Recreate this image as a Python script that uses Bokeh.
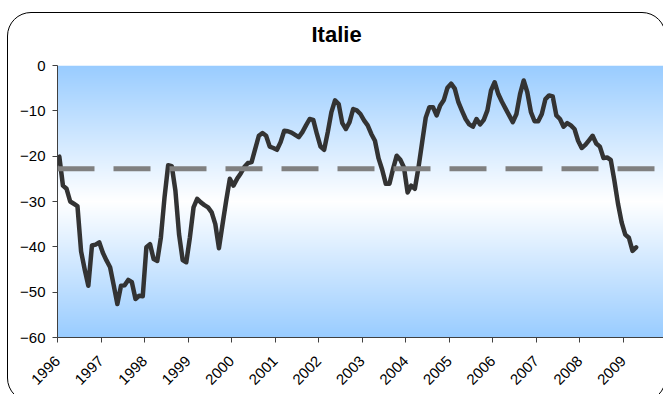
import numpy as np
from bokeh.plotting import figure
from bokeh.models import Span, FixedTicker, InlineStyleSheet
from bokeh.embed import file_html
from bokeh.resources import INLINE

# ---- data ----
title_text = "Italie"
start_year = 1996
values = [
    # 1996
    -20.1, -26.5, -27.2, -30.0, -30.5, -31.0, -41.0, -45.0, -48.6, -39.7, -39.5, -39.0,
    # 1997
    -41.3, -43.0, -44.5, -48.5, -52.6, -48.6, -48.5, -47.3, -47.8, -51.5, -50.8, -50.9,
    # 1998
    -40.1, -39.4, -42.7, -43.1, -37.9, -29.1, -22.0, -22.2, -27.6, -37.2, -42.9, -43.4,
    # 1999
    -37.9, -31.3, -29.4, -30.2, -30.8, -31.3, -32.4, -35.0, -40.3, -35.0, -29.8, -25.0,
    # 2000
    -26.5, -25.0, -23.8, -22.4, -21.5, -21.3, -18.4, -15.5, -14.9, -15.5, -17.9, -18.2,
    # 2001
    -18.6, -16.9, -14.4, -14.5, -14.8, -15.3, -15.8, -14.7, -13.2, -11.8, -12.0, -15.1,
    # 2002
    -17.9, -18.6, -14.7, -10.3, -7.7, -8.5, -12.7, -14.0, -12.5, -9.6, -9.9, -10.7,
    # 2003
    -12.1, -13.2, -15.1, -16.6, -20.5, -23.0, -26.1, -26.1, -22.8, -19.9, -20.8, -22.5,
    # 2004
    -28.0, -26.5, -27.2, -22.5, -17.0, -11.5, -9.2, -9.2, -11.0, -8.8, -7.6, -4.9,
    # 2005
    -4.0, -5.1, -8.1, -10.0, -11.8, -13.0, -13.5, -11.8, -13.0, -12.0, -9.9, -5.5,
    # 2006
    -3.7, -6.3, -8.0, -9.5, -11.0, -12.5, -10.7, -6.3, -3.3, -5.9, -10.3, -12.3,
    # 2007
    -12.3, -10.7, -7.4, -6.6, -6.8, -11.0, -11.8, -13.5, -12.7, -13.2, -14.0, -16.6,
    # 2008
    -18.2, -17.5, -16.5, -15.5, -17.2, -17.9, -20.4, -20.3, -20.8, -25.4, -30.5, -34.6,
    # 2009
    -37.3, -38.0, -40.9, -40.1,
]
average_level = -22.8
year_ticks = list(range(1996, 2010))
year_labels = [str(y) for y in year_ticks]
y_ticks = [-60, -50, -40, -30, -20, -10, 0]

# ---- figure ----
x_start, x_end = 1996.0, 2009.92
y_start, y_end = -60.0, 0.0

p = figure(width=663, height=394, output_backend="svg", toolbar_location=None,
           x_range=(x_start, x_end), y_range=(y_start, y_end),
           min_border_left=57, min_border_right=0, min_border_top=65,
           min_border_bottom=57, title=title_text)
p.background_fill_color = "white"
p.border_fill_color = "white"
p.outline_line_color = None
p.grid.visible = False

p.title.align = "left"
p.title.offset = 254
p.title.text_font = "Liberation Sans"
p.title.text_font_size = "22px"
p.title.text_font_style = "bold"
p.title.text_color = "black"
p.title.vertical_align = "top"
p.title.standoff = 34

# gradient background of the plot area (blue - white - blue)
n = 272
blue = np.array([153, 204, 255], dtype=float)
white = np.array([255, 255, 255], dtype=float)
img = np.empty((n, 1), dtype=np.uint32)
view = img.view(dtype=np.uint8).reshape((n, 1, 4))
for r in range(n):
    d = abs(r / (n - 1) - 0.5) * 2.0
    c = white * (1 - d) + blue * d
    view[r, 0, 0] = int(round(c[0]))
    view[r, 0, 1] = int(round(c[1]))
    view[r, 0, 2] = int(round(c[2]))
    view[r, 0, 3] = 255
p.image_rgba(image=[img], x=x_start, y=y_start, dw=x_end - x_start, dh=y_end - y_start)

# average dashed line
p.add_layout(Span(location=average_level, dimension="width", line_color="#808080",
                  line_width=5, line_dash="37 19"))

# series
xs = [start_year + (i + 0.5) / 12.0 for i in range(len(values))]
p.line(xs, values, line_color="#333333", line_width=4.5, line_join="round", line_cap="round")

# axes
for ax in (p.xaxis[0], p.yaxis[0]):
    ax.axis_line_color = "#404040"
    ax.major_tick_line_color = "#404040"
    ax.major_tick_out = 5
    ax.major_tick_in = 0
    ax.minor_tick_line_color = None
    ax.major_label_text_font = "Liberation Sans"
    ax.major_label_text_color = "black"

p.yaxis[0].ticker = FixedTicker(ticks=y_ticks)
p.yaxis[0].major_label_standoff = 7
p.yaxis[0].major_label_text_font_size = "15px"
p.xaxis[0].ticker = FixedTicker(ticks=year_ticks)
p.xaxis[0].major_label_overrides = {y: lab for y, lab in zip(year_ticks, year_labels)}
p.xaxis[0].major_label_orientation = np.pi / 4
p.xaxis[0].major_label_standoff = 16
p.xaxis[0].major_label_text_font_size = "15px"

# rounded chart border (drawn by CSS around the chart, clipped by the window)
p.stylesheets = [InlineStyleSheet(css="""
:host { position: relative; overflow: hidden; }
:host::after {
  content: "";
  box-sizing: border-box;
  position: absolute;
  left: 7px;
  top: 12px;
  width: 659px;
  height: 390px;
  border: 1.5px solid #000000;
  border-radius: 24px;
  pointer-events: none;
  z-index: 10;
}
""")]

open("out.html", "w").write(file_html(p, INLINE))
